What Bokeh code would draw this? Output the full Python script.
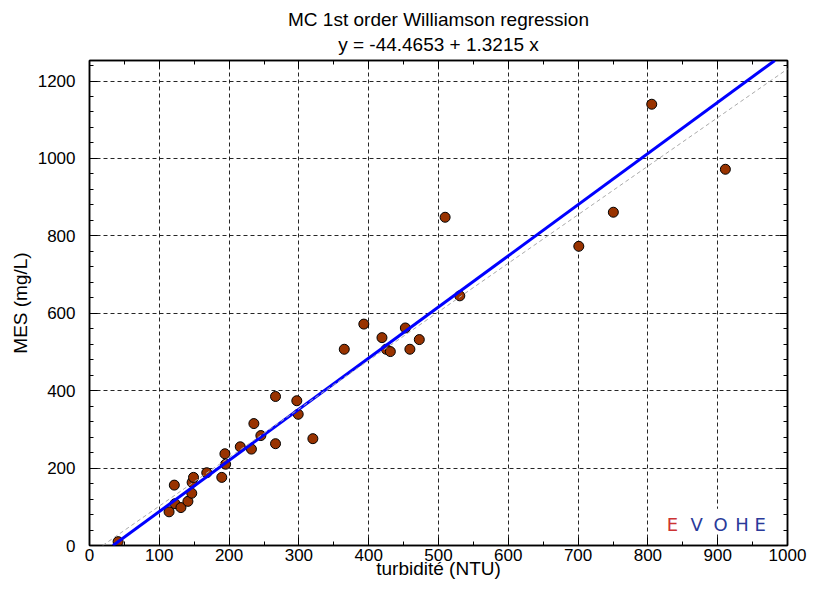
from bokeh.plotting import figure
from bokeh.models import (Range1d, SingleIntervalTicker, LinearAxis, Slope, Label,
                          BoxAnnotation, Title, ColumnDataSource)
from bokeh.embed import file_html
from bokeh.resources import INLINE

# ---- data ----
turbidite = [41, 114, 121.5, 122.5, 131, 141, 146.5, 147, 149, 168, 189.5, 194, 195,
             216, 232, 235.5, 245.5, 266.5, 266.5, 297, 299, 320, 365, 393, 419, 425,
             431, 452.5, 459, 472.5, 509.5, 530.5, 701, 750.5, 805.5, 911]
mes = [10, 87, 156, 108, 98, 114, 135, 163, 176, 188, 176, 237, 210,
       255, 249, 315, 284, 385, 263, 374, 339, 276, 507, 572, 537, 507,
       501, 562, 507, 532, 848, 645, 773, 861, 1140, 972]

williamson_intercept = -44.4653
williamson_slope = 1.3215
ref_intercept = -23.6
ref_slope = 1.2546

x_ticks_interval = 100
y_ticks_interval = 200

title_line1 = "MC 1st order Williamson regression"
title_line2 = "y = -44.4653 + 1.3215 x"
x_label = "turbidité (NTU)"
y_label = "MES (mg/L)"

FONT = "Liberation Sans"

p = figure(width=807, height=581, output_backend="svg", toolbar_location=None,
           x_range=Range1d(0, 1000), y_range=Range1d(0, 1253),
           min_border_left=89, min_border_right=20, min_border_top=60,
           min_border_bottom=30, title=title_line1,
           background_fill_color="white", border_fill_color="white")

bottom_ax = p.below[0]
left_ax = p.left[0]

p.title.text_font = FONT
p.title.text_font_size = "19px"
p.title.text_font_style = "normal"
p.title.text_color = "black"
p.title.align = "center"
p.title.standoff = -8


def style_axis(ax, interval, nminor, labels=True):
    ax.ticker = SingleIntervalTicker(interval=interval, num_minor_ticks=nminor)
    ax.major_tick_in = 8
    ax.major_tick_out = 0
    ax.minor_tick_in = 4
    ax.minor_tick_out = 0
    ax.axis_line_color = "black"
    ax.axis_line_width = 1.5
    ax.major_tick_line_color = "black"
    ax.minor_tick_line_color = "black"
    ax.major_label_text_font = FONT
    if labels:
        ax.major_label_text_font_size = "17px"
        ax.major_label_text_color = "black"
    else:
        ax.major_label_text_font_size = "1px"
        ax.major_label_text_color = None
        ax.major_label_standoff = 0


style_axis(bottom_ax, x_ticks_interval, 2)
style_axis(left_ax, y_ticks_interval, 5)
bottom_ax.major_label_standoff = 3
left_ax.major_label_standoff = 14

bottom_ax.axis_label = x_label
left_ax.axis_label = y_label
for ax in (bottom_ax, left_ax):
    ax.axis_label_text_font = FONT
    ax.axis_label_text_font_size = "19px"
    ax.axis_label_text_font_style = "normal"
    ax.axis_label_text_color = "black"
bottom_ax.axis_label_standoff = -6
left_ax.axis_label_standoff = 4

# top axis first so that it sits next to the frame, then the 2nd title line
top_ax = LinearAxis()
style_axis(top_ax, x_ticks_interval, 2, labels=False)
p.add_layout(top_ax, "above")

t2 = Title(text=title_line2, align="center", text_font=FONT, text_font_size="19px",
           text_font_style="normal", text_color="black", standoff=12)
p.add_layout(t2, "above")

right_ax = LinearAxis()
style_axis(right_ax, y_ticks_interval, 5, labels=False)
p.add_layout(right_ax, "right")

p.outline_line_color = "black"
p.outline_line_width = 1.5

for g in (p.xgrid[0], p.ygrid[0]):
    g.grid_line_color = "black"
    g.grid_line_dash = "4 3"
    g.grid_line_alpha = 0.85
    g.grid_line_width = 1

src = ColumnDataSource(dict(turbidite=turbidite, mes=mes))
p.scatter(x="turbidite", y="mes", source=src, size=10, fill_color="#993300",
          line_color="black", line_width=1)

p.add_layout(Slope(gradient=williamson_slope, y_intercept=williamson_intercept,
                   line_color="#0000ff", line_width=3))
p.add_layout(Slope(gradient=ref_slope, y_intercept=ref_intercept,
                   line_color="#aaaaaa", line_width=1, line_dash="4 3"))

# logo
p.add_layout(BoxAnnotation(left=820, right=975, bottom=32, top=95,
                           fill_color="white", fill_alpha=1, line_color=None))
logo_letters = ["E", "V", "O", "H", "E"]
logo_x = [835, 870, 904, 935, 961]
logo_colors = ["#cc3333", "#2a3a9a", "#2a3a9a", "#2a3a9a", "#2a3a9a"]
for ch, lx, lc in zip(logo_letters, logo_x, logo_colors):
    p.add_layout(Label(x=lx, y=55, text=ch, text_align="center", text_baseline="middle",
                       text_font="DejaVu Sans", text_font_size="18px",
                       text_font_style="normal", text_color=lc))

open("out.html", "w").write(file_html(p, INLINE))
